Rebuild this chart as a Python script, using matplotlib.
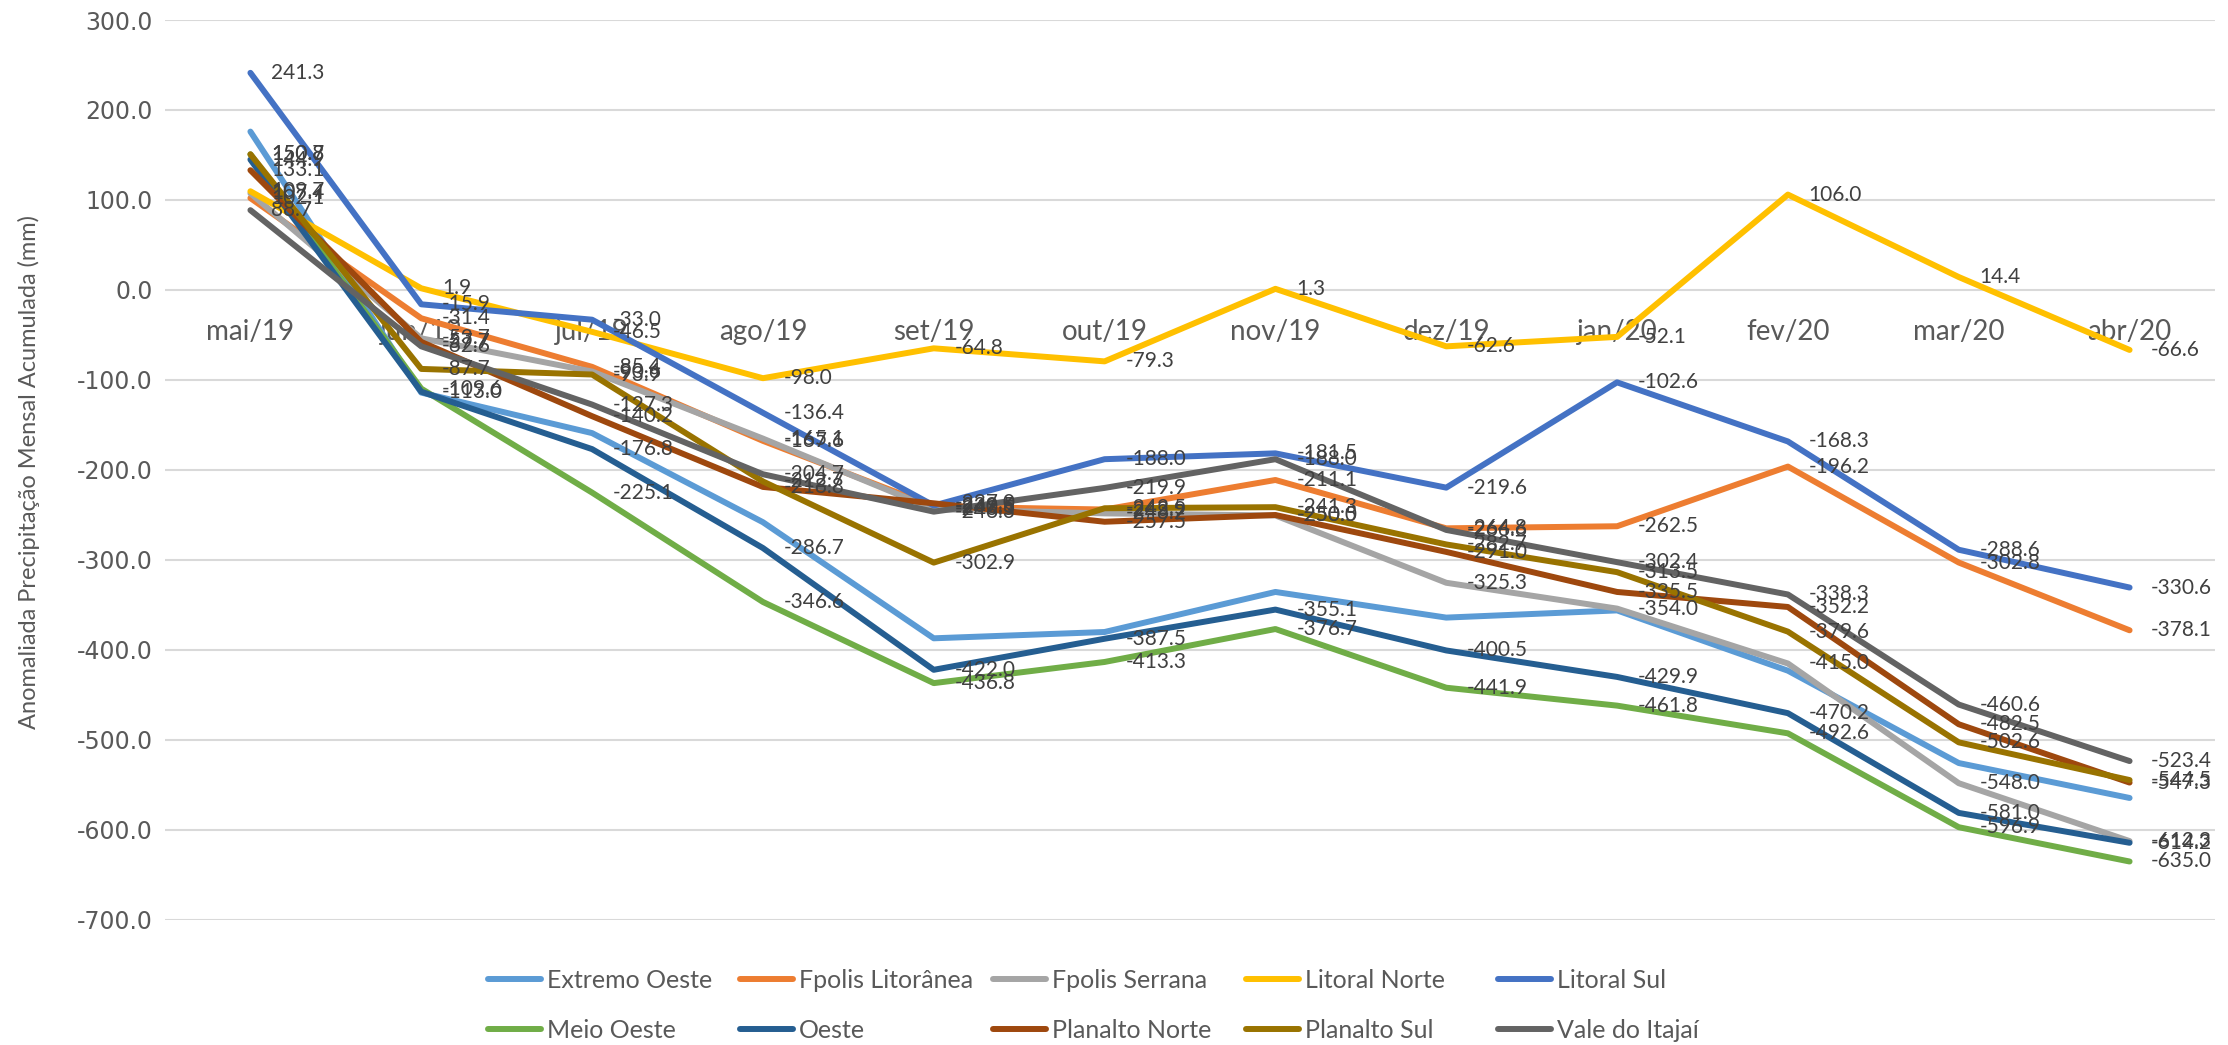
import matplotlib
matplotlib.use("Agg")
import matplotlib.pyplot as plt

months = ["mai/19", "jun/19", "jul/19", "ago/19", "set/19", "out/19",
          "nov/19", "dez/19", "jan/20", "fev/20", "mar/20", "abr/20"]

series_names = ["Extremo Oeste", "Fpolis Litorânea", "Fpolis Serrana", "Litoral Norte",
                "Litoral Sul", "Meio Oeste", "Oeste", "Planalto Norte", "Planalto Sul",
                "Vale do Itajaí"]

extremo_oeste = [176.0, -114.0, -159.0, -258.0, -387.0, -380.0, -335.5, -364.0, -356.0, -423.0, -525.6, -564.4]
fpolis_litoranea = [102.1, -31.4, -85.4, -167.6, -240.6, -243.9, -211.1, -264.8, -262.5, -196.2, -302.8, -378.1]
fpolis_serrana = [107.4, -53.7, -90.6, -165.1, -243.5, -248.2, -250.5, -325.3, -354.0, -415.0, -548.0, -612.3]
litoral_norte = [109.7, 1.9, -46.5, -98.0, -64.8, -79.3, 1.3, -62.6, -52.1, 106.0, 14.4, -66.6]
litoral_sul = [241.3, -15.9, -33.0, -136.4, -239.5, -188.0, -181.5, -219.6, -102.6, -168.3, -288.6, -330.6]
meio_oeste = [150.7, -109.6, -225.1, -346.6, -436.8, -413.3, -376.7, -441.9, -461.8, -492.6, -596.9, -635.0]
oeste = [144.9, -113.0, -176.8, -286.7, -422.0, -387.5, -355.1, -400.5, -429.9, -470.2, -581.0, -614.2]
planalto_norte = [133.1, -57.7, -140.2, -218.8, -237.0, -257.5, -250.0, -291.0, -335.5, -352.2, -482.5, -547.3]
planalto_sul = [150.8, -87.7, -93.9, -212.7, -302.9, -242.5, -241.3, -282.7, -313.5, -379.6, -502.6, -544.5]
vale_itajai = [88.7, -62.6, -127.3, -204.7, -246.3, -219.9, -188.0, -266.6, -302.4, -338.3, -460.6, -523.4]

all_values = [extremo_oeste, fpolis_litoranea, fpolis_serrana, litoral_norte, litoral_sul,
              meio_oeste, oeste, planalto_norte, planalto_sul, vale_itajai]
show_labels = [False, True, True, True, True, True, True, True, True, True]

colors = ["#5B9BD5", "#ED7D31", "#A5A5A5", "#FFC000", "#4472C4",
          "#70AD47", "#255E91", "#9E480E", "#997300", "#636363"]

yticks = [300, 200, 100, 0, -100, -200, -300, -400, -500, -600, -700]

W, H = 2228, 1045
fig = plt.figure(figsize=(W / 100, H / 100), dpi=100)
left, right, top, bottom = 165, 2215, 20, 920
ax = fig.add_axes([left / W, 1 - bottom / H, (right - left) / W, (bottom - top) / H])
ax.spines["bottom"].set_position(("data", 0))

x = list(range(len(months)))
lines = []
for name, vals, col, lab in zip(series_names, all_values, colors, show_labels):
    ln, = ax.plot(x, vals, color=col, lw=4.3, solid_capstyle="round",
                  solid_joinstyle="round", label=name, zorder=3)
    lines.append(ln)
    if lab:
        for xi, v in zip(x, vals):
            ax.annotate(f"{v:.1f}", (xi, v), xytext=(15, 0), textcoords="offset points",
                        ha="left", va="center", fontsize=15, family="Lato",
                        color="#404040", zorder=10)

ax.set_xlim(-0.5, len(months) - 0.5)
ax.set_ylim(-700, 300)
ax.set_yticks(yticks)
ax.set_yticklabels([f"{t:.1f}" for t in yticks], fontsize=17, family="DejaVu Sans", color="#595959")
ax.set_xticks(x)
ax.set_xticklabels(months, fontsize=20, family="Lato", color="#595959")
for s in ax.spines.values():
    s.set_visible(False)
ax.tick_params(axis="x", length=0, pad=21)
ax.tick_params(axis="y", length=0, pad=9)
ax.grid(axis="y", color="#D9D9D9", lw=1.5, zorder=0)
ax.set_axisbelow(True)

fig.text(29 / W, 1 - 472 / H, "Anomaliada Precipitação Mensal Acumulada (mm)",
         rotation=90, ha="center", va="center", fontsize=17, family="Lato", color="#595959")

col_x = [488, 740, 993, 1246, 1498]
row_y = [980, 1030]
for i, ln in enumerate(lines):
    r, c = divmod(i, 5)
    fig.legend([ln], [ln.get_label()], loc="center left",
               bbox_to_anchor=(col_x[c] / W, 1 - row_y[r] / H),
               frameon=False, borderpad=0, borderaxespad=0, handlelength=2.1,
               handletextpad=0.25, prop={"family": "Lato", "size": 18},
               labelcolor="#595959")

fig.savefig("out.png", dpi=100)
